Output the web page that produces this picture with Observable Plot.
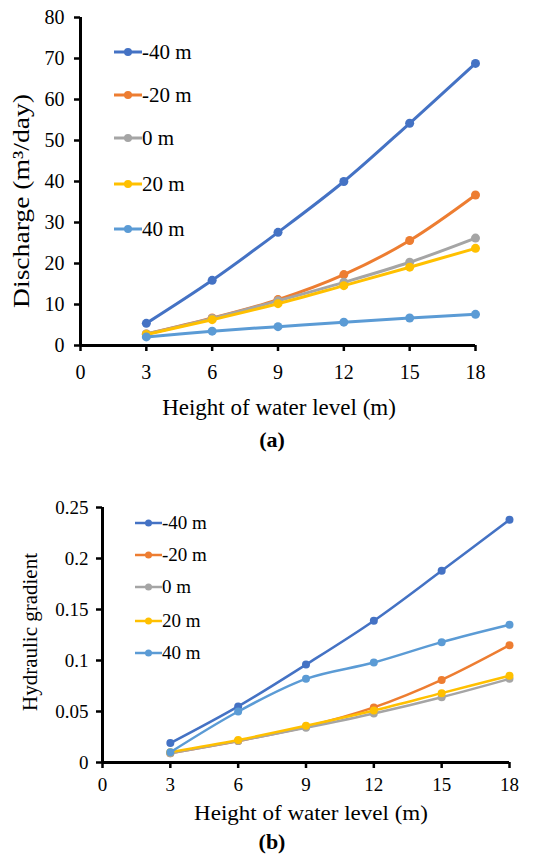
<!DOCTYPE html>
<html>
<head>
<meta charset="utf-8">
<script src="https://cdn.jsdelivr.net/npm/d3@7"></script>
<script src="https://cdn.jsdelivr.net/npm/@observablehq/plot@0.6"></script>
<style>
  html, body { margin: 0; padding: 0; background: #fff; font-family: 'Liberation Serif'; }
</style>
</head>
<body>
<div id="root" style="position:relative;width:533px;height:857px;font-family:'Liberation Serif';color:#000;overflow:hidden"></div>
<script>
// ---- data ----
const heights = [3, 6, 9, 12, 15, 18];
const seriesNames = ["-40 m", "-20 m", "0 m", "20 m", "40 m"];
const seriesColors = ["#4472C4", "#ED7D31", "#A5A5A5", "#FFC000", "#5B9BD5"];

// (a) Discharge (m3/day)
const dischargeM40 = [5.4, 15.9, 27.6, 40.0, 54.2, 68.8];
const dischargeM20 = [2.8, 6.7, 11.2, 17.3, 25.6, 36.7];
const discharge0   = [2.8, 6.6, 10.9, 15.4, 20.3, 26.2];
const dischargeP20 = [2.7, 6.3, 10.2, 14.6, 19.1, 23.7];
const dischargeP40 = [2.1, 3.5, 4.6, 5.7, 6.7, 7.6];

// (b) Hydraulic gradient
const gradientM40 = [0.019, 0.055, 0.096, 0.139, 0.188, 0.238];
const gradientM20 = [0.009, 0.021, 0.035, 0.054, 0.081, 0.115];
const gradient0   = [0.009, 0.021, 0.034, 0.048, 0.064, 0.082];
const gradientP20 = [0.010, 0.022, 0.036, 0.051, 0.068, 0.085];
const gradientP40 = [0.010, 0.050, 0.082, 0.098, 0.118, 0.135];

// tick labels
const xTicks = [0, 3, 6, 9, 12, 15, 18];
const yTicksA = [0, 10, 20, 30, 40, 50, 60, 70, 80];
const yTicksB = [0, 0.05, 0.1, 0.15, 0.2, 0.25];

const xTitle = "Height of water level (m)";
const yTitleA = "Discharge (m³/day)";
const yTitleB = "Hydraulic gradient";

const FONT = "'Liberation Serif'";

// ---- helpers ----
function toRows(seriesValues) {
  const rows = [];
  seriesValues.forEach((vals, i) => {
    vals.forEach((v, j) => rows.push({ s: seriesNames[i], h: heights[j], v }));
  });
  return rows;
}

function makeChart(rows, opt) {
  const marks = [
    Plot.axisX({ ticks: xTicks, tickSize: 6, tickPadding: opt.xPad, strokeWidth: 2.5, label: null, fontSize: opt.tickFont }),
    Plot.axisY({ ticks: opt.yTicks, tickSize: 6, tickPadding: opt.yPad, strokeWidth: 2.5, label: null, fontSize: opt.tickFont, tickFormat: d => String(d) }),
    Plot.ruleY([0], { stroke: "#000", strokeWidth: 3 }),
    Plot.ruleX([0], { stroke: "#000", strokeWidth: 3 })
  ];
  seriesNames.forEach(name => {
    const sub = rows.filter(r => r.s === name);
    marks.push(Plot.line(sub, { x: "h", y: "v", stroke: "s", strokeWidth: opt.lw, curve: "catmull-rom" }));
    marks.push(Plot.dot(sub, { x: "h", y: "v", fill: "s", r: opt.r }));
  });
  const svg = Plot.plot({
    width: 533,
    height: opt.height,
    marginLeft: opt.ml, marginRight: opt.mr, marginTop: opt.mt, marginBottom: opt.mb,
    style: { fontFamily: FONT, color: "#000", background: "transparent", overflow: "visible" },
    x: { domain: [0, 18] },
    y: { domain: opt.yDomain },
    color: { domain: seriesNames, range: seriesColors },
    marks
  });
  svg.querySelectorAll("text").forEach(t => t.setAttribute("font-family", FONT));
  svg.querySelectorAll("g[aria-label$='tick label']").forEach(g => g.setAttribute("font-family", FONT));
  return svg;
}

const root = document.getElementById("root");

function place(el, top, left) {
  el.style.position = "absolute";
  el.style.top = top + "px";
  el.style.left = (left || 0) + "px";
  root.appendChild(el);
}

function addText(txt, cx, cy, size, extra) {
  const d = document.createElement("div");
  d.textContent = txt;
  d.style.position = "absolute";
  d.style.whiteSpace = "nowrap";
  d.style.fontFamily = FONT;
  d.style.left = cx + "px";
  d.style.top = cy + "px";
  d.style.fontSize = size + "px";
  d.style.lineHeight = "1";
  d.style.transform = "translate(-50%,-50%) " + (extra || "");
  root.appendChild(d);
  return d;
}

function addLegend(x0, swatchW, centers, size, r, lw) {
  seriesNames.forEach((name, i) => {
    const row = document.createElement("div");
    row.style.position = "absolute";
    row.style.display = "flex";
    row.style.alignItems = "center";
    row.style.whiteSpace = "nowrap";
    row.style.fontFamily = FONT;
    row.style.left = x0 + "px";
    row.style.top = (centers[i] - 12) + "px";
    row.style.height = "24px";
    row.style.fontSize = size + "px";
    const ns = "http://www.w3.org/2000/svg";
    const svg = document.createElementNS(ns, "svg");
    svg.setAttribute("width", swatchW);
    svg.setAttribute("height", 12);
    const ln = document.createElementNS(ns, "line");
    ln.setAttribute("x1", 0); ln.setAttribute("x2", swatchW);
    ln.setAttribute("y1", 6); ln.setAttribute("y2", 6);
    ln.setAttribute("stroke", seriesColors[i]); ln.setAttribute("stroke-width", lw);
    const c = document.createElementNS(ns, "circle");
    c.setAttribute("cx", swatchW / 2); c.setAttribute("cy", 6); c.setAttribute("r", r);
    c.setAttribute("fill", seriesColors[i]);
    svg.appendChild(ln); svg.appendChild(c);
    const t = document.createElement("span");
    t.textContent = name;
    row.appendChild(svg); row.appendChild(t);
    root.appendChild(row);
  });
}

// ---- chart (a) ----
const chartA = makeChart(toRows([dischargeM40, dischargeM20, discharge0, dischargeP20, dischargeP40]), {
  height: 390, ml: 80, mr: 58, mt: 17, mb: 45,
  yDomain: [0, 80], yTicks: yTicksA, xPad: 13, yPad: 10, tickFont: 20, lw: 3, r: 4.5
});
place(chartA, 0, 0);

// ---- chart (b) ----
const chartB = makeChart(toRows([gradientM40, gradientM20, gradient0, gradientP20, gradientP40]), {
  height: 320, ml: 102, mr: 24, mt: 20, mb: 45,
  yDomain: [0, 0.25], yTicks: yTicksB, xPad: 9, yPad: 8, tickFont: 19, lw: 2.5, r: 4
});
place(chartB, 487, 0);

// ---- titles ----
addText(yTitleA, 21, 201, 23, "rotate(-90deg) scaleX(1.2)");
addText(xTitle, 279, 407, 23);
const capA = addText("(a)", 272, 440, 22); capA.style.fontWeight = "bold";

addText(yTitleB, 30, 632, 21, "rotate(-90deg)");
addText(xTitle, 311, 813, 20, "scaleX(1.15)");
const capB = addText("(b)", 272, 842, 22); capB.style.fontWeight = "bold";

// ---- legends ----
addLegend(114, 28, [52, 95, 138, 184, 229], 21, 4, 3);
addLegend(135, 27, [523, 555, 587, 621, 653], 19, 3.5, 2.5);
</script>
</body>
</html>
